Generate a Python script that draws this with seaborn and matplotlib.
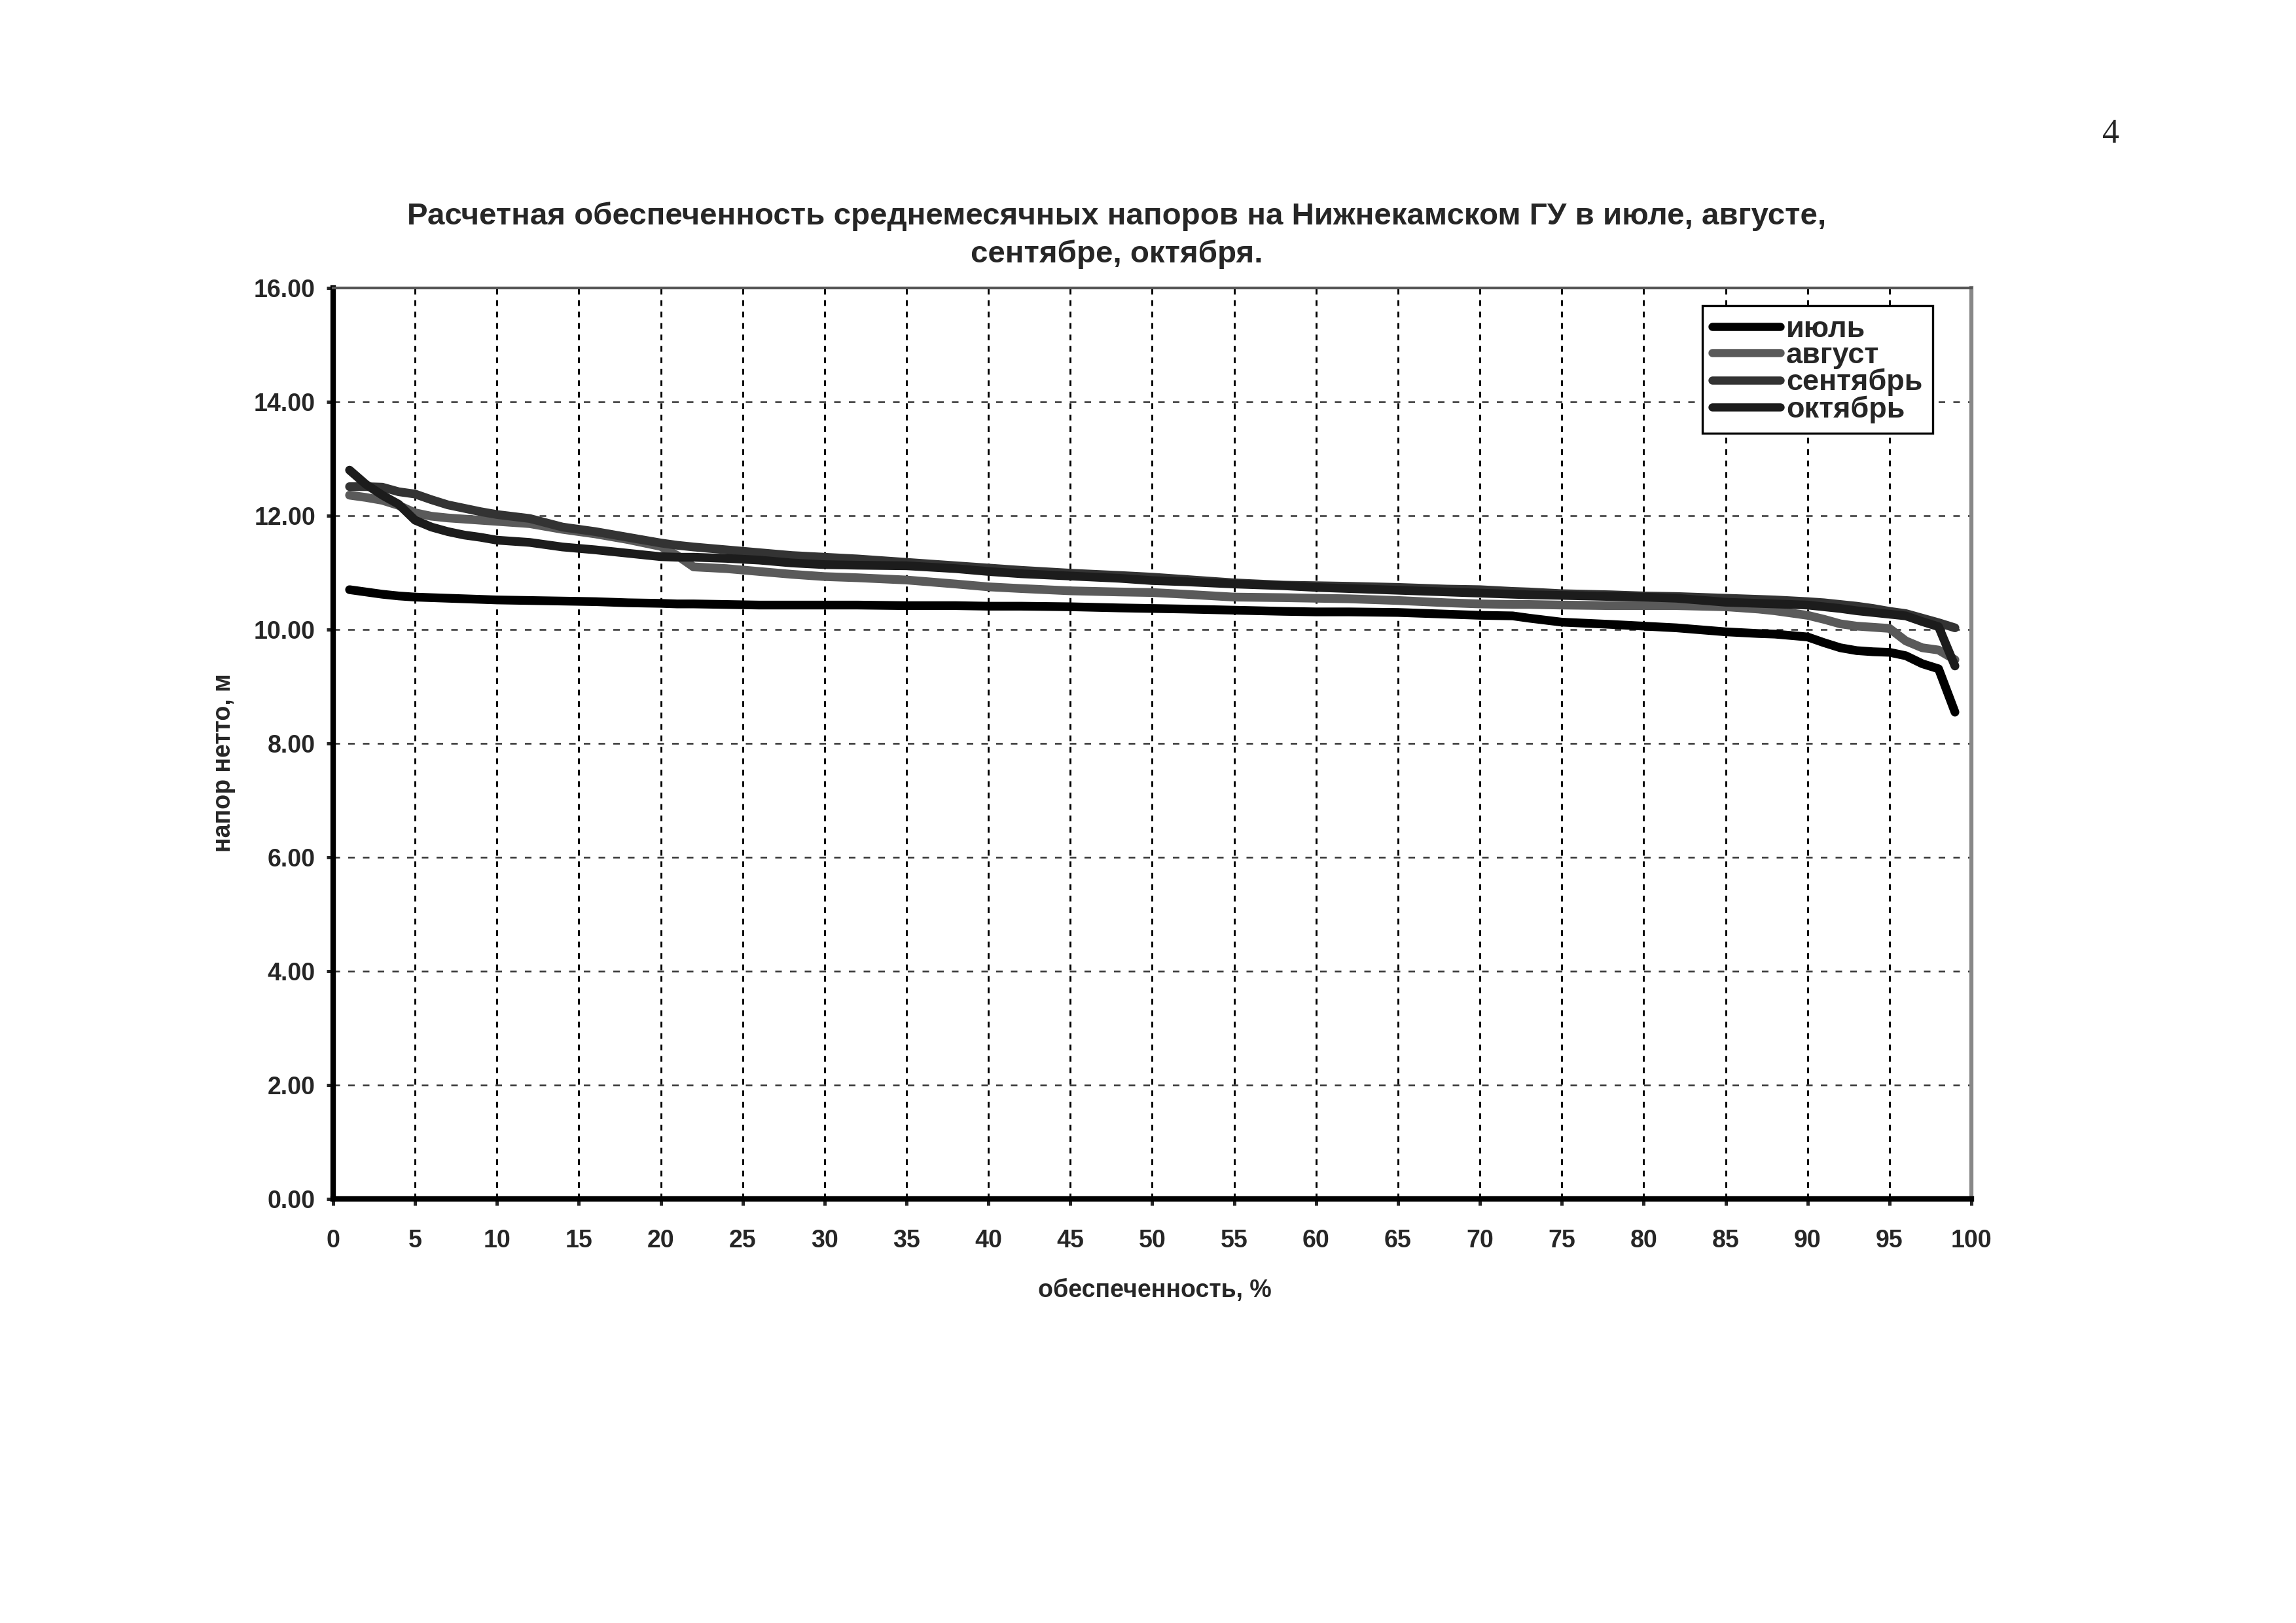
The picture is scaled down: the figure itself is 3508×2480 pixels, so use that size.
import matplotlib

matplotlib.use('Agg')
import matplotlib.pyplot as plt
import seaborn as sns
import pandas as pd

# обеспеченность, % (общая ось x для всех месяцев)
pct = [1, 2, 3, 4, 5, 6, 7, 8, 9, 10,
       12, 14, 16, 18, 20, 21, 22, 24, 26, 28,
       30, 32, 35, 38, 40, 42, 45, 48, 50, 52,
       55, 58, 60, 62, 65, 68, 70, 72, 73, 75,
       78, 80, 82, 85, 87, 88, 90, 91, 92, 93,
       94, 95, 96, 97, 98, 99]

# напор нетто, м
july = [10.70, 10.66, 10.62, 10.59, 10.57, 10.56, 10.55, 10.54, 10.53, 10.52,
        10.51, 10.50, 10.49, 10.47, 10.46, 10.45, 10.45, 10.44, 10.43, 10.43,
        10.43, 10.43, 10.42, 10.42, 10.41, 10.41, 10.40, 10.38, 10.37, 10.36,
        10.34, 10.32, 10.31, 10.31, 10.30, 10.27, 10.25, 10.24, 10.20, 10.13,
        10.09, 10.06, 10.03, 9.96, 9.93, 9.92, 9.87, 9.77, 9.68, 9.63,
        9.61, 9.60, 9.54, 9.40, 9.31, 8.55]
august = [12.36, 12.32, 12.27, 12.18, 12.05, 11.99, 11.96, 11.94, 11.92, 11.90,
          11.86, 11.76, 11.68, 11.58, 11.46, 11.30, 11.10, 11.07, 11.02, 10.97,
          10.93, 10.91, 10.87, 10.80, 10.75, 10.72, 10.68, 10.66, 10.65, 10.62,
          10.57, 10.56, 10.55, 10.54, 10.51, 10.47, 10.45, 10.44, 10.44, 10.43,
          10.42, 10.42, 10.42, 10.40, 10.36, 10.33, 10.25, 10.18, 10.10, 10.06,
          10.04, 10.02, 9.80, 9.68, 9.64, 9.47]
september = [12.51, 12.51, 12.50, 12.42, 12.38, 12.28, 12.19, 12.13, 12.07, 12.02,
             11.95, 11.80, 11.72, 11.62, 11.52, 11.48, 11.45, 11.40, 11.35, 11.30,
             11.27, 11.24, 11.18, 11.12, 11.08, 11.04, 10.99, 10.95, 10.92, 10.88,
             10.82, 10.78, 10.77, 10.76, 10.74, 10.71, 10.70, 10.67, 10.66, 10.63,
             10.61, 10.59, 10.58, 10.55, 10.53, 10.52, 10.49, 10.47, 10.44, 10.41,
             10.37, 10.32, 10.28, 10.20, 10.12, 10.03]
october = [12.80, 12.55, 12.36, 12.20, 11.92, 11.80, 11.72, 11.66, 11.62, 11.57,
           11.53, 11.45, 11.40, 11.34, 11.28, 11.27, 11.27, 11.25, 11.22, 11.17,
           11.14, 11.13, 11.12, 11.07, 11.02, 10.98, 10.94, 10.90, 10.86, 10.84,
           10.80, 10.77, 10.74, 10.72, 10.69, 10.66, 10.64, 10.62, 10.61, 10.60,
           10.58, 10.57, 10.55, 10.48, 10.46, 10.45, 10.43, 10.40, 10.37, 10.33,
           10.30, 10.27, 10.24, 10.14, 10.05, 9.36]

months = ['июль', 'август', 'сентябрь', 'октябрь']
month_colors = ['#000000', '#5a5a5a', '#333333', '#1c1c1c']
y_ticks = [0, 2, 4, 6, 8, 10, 12, 14, 16]
x_ticks = list(range(0, 101, 5))

frames = []
for name, values in zip(months, [july, august, september, october]):
    frames.append(pd.DataFrame({'pct': pct, 'head': values, 'month': name}))
data = pd.concat(frames, ignore_index=True)

sns.set_theme(style='ticks')
plt.rcParams['font.family'] = ['Liberation Sans', 'DejaVu Sans']
plt.rcParams['font.weight'] = 'bold'

fig = plt.figure(figsize=(3508 / 300, 2480 / 300), dpi=300)
ax = fig.add_axes([0.1451, 0.2613, 0.7135, 0.5613])

sns.lineplot(data=data, x='pct', y='head', hue='month', hue_order=months,
             palette=dict(zip(months, month_colors)), linewidth=3.2,
             errorbar=None, legend=False, ax=ax, solid_capstyle='round', zorder=3)

ax.set_xlim(0, 100)
ax.set_ylim(0, 16)
ax.set_xticks(x_ticks)
ax.set_xticklabels([str(t) for t in x_ticks])
ax.set_yticks(y_ticks)
ax.set_yticklabels([f'{t:.2f}' for t in y_ticks])
ax.tick_params(axis='y', direction='out', length=2.5, width=1.2, pad=4, labelsize=9)
ax.tick_params(axis='x', direction='out', length=2.5, width=1.2, pad=8.5, labelsize=9)
for lab in ax.get_xticklabels() + ax.get_yticklabels():
    lab.set_fontweight('bold')
ax.set_xlabel('')
ax.set_ylabel('')

# пунктирная сетка
ax.xaxis.grid(True, color='black', linewidth=0.7, linestyle=(0, (3, 3)))
ax.yaxis.grid(True, color='#333333', linewidth=0.6, linestyle=(0, (4, 5)))
ax.set_axisbelow(True)

ax.spines['left'].set_linewidth(2)
ax.spines['bottom'].set_linewidth(2)
ax.spines['left'].set_color('black')
ax.spines['bottom'].set_color('black')
ax.spines['top'].set_color('#555555')
ax.spines['top'].set_linewidth(1.0)
ax.spines['right'].set_color('#888888')
ax.spines['right'].set_linewidth(1.5)

leg = ax.legend(ax.get_lines()[:4], months, loc='upper right',
                bbox_to_anchor=(0.9764, 0.9806), borderaxespad=0,
                fancybox=False, framealpha=1, edgecolor='black',
                prop={'size': 10.8, 'weight': 'bold'}, handlelength=2.3,
                handletextpad=0.2, labelspacing=-0.02, borderpad=0.35)
leg.get_frame().set_linewidth(0.8)
for line in leg.get_lines():
    line.set_linewidth(3)

fig.text(0.4863, 0.8617, 'Расчетная обеспеченность среднемесячных напоров на Нижнекамском ГУ в июле, августе,',
         ha='center', va='baseline', fontsize=11.4, fontweight='bold')
fig.text(0.4863, 0.8383, 'сентябре, октября.', ha='center', va='baseline',
         fontsize=11.4, fontweight='bold')
fig.text(0.5031, 0.2048, 'обеспеченность, %', ha='center', va='center',
         fontsize=9, fontweight='bold')
fig.text(0.0975, 0.530, 'напор нетто, м', ha='center', va='center',
         rotation=90, fontsize=9, fontweight='bold')
fig.text(0.9193, 0.9173, '4', ha='center', va='center', fontsize=12.5,
         fontweight='normal', family=['Liberation Serif', 'DejaVu Serif'])

fig.savefig('out.png', dpi=300, facecolor='white')
